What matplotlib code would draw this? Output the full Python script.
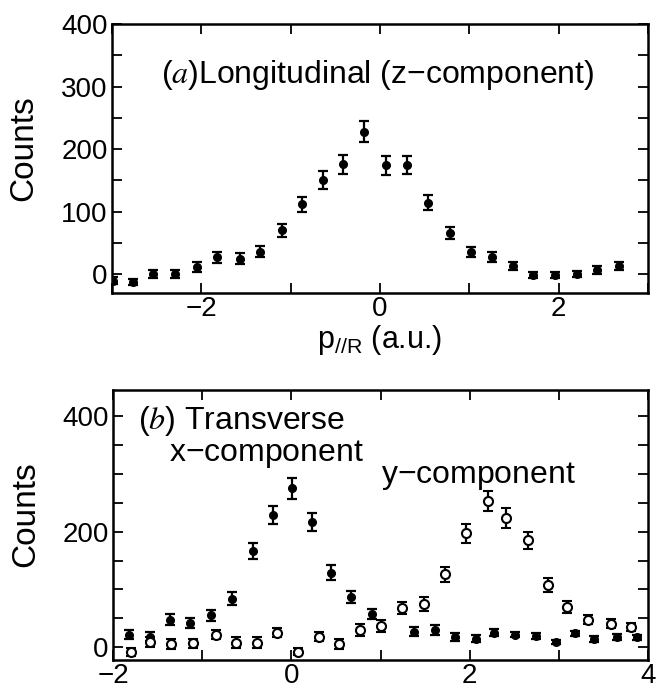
import numpy as np
import matplotlib
matplotlib.use("Agg")
import matplotlib.pyplot as plt
from matplotlib.ticker import MultipleLocator

plt.rcParams["font.family"] = ["Liberation Sans", "DejaVu Sans"]
plt.rcParams["mathtext.fontset"] = "stix"
plt.rcParams["mathtext.default"] = "regular"

## (a) longitudinal
pz = [-2.99, -2.77, -2.54, -2.29, -2.05, -1.82, -1.57, -1.34, -1.10, -0.87, -0.64, -0.41, -0.18,
      0.07, 0.30, 0.54, 0.78, 1.02, 1.25, 1.49, 1.71, 1.96, 2.20, 2.43, 2.67]
cz = [-10, -12, 0, 0, 11, 27, 25, 36, 70, 112, 151, 176, 228, 174, 175, 114, 66, 36, 28, 13,
      -1, -1, 0, 7, 13]
ez = [6, 5, 6, 6, 8, 9, 9, 9, 10, 12, 14, 15, 17, 15, 14, 12, 10, 8, 8, 7, 5, 5, 5, 6, 7]

## (b) transverse, x-component (filled)
px = [-1.82, -1.59, -1.36, -1.14, -0.90, -0.67, -0.43, -0.21, 0.01, 0.23, 0.45, 0.67, 0.91,
      1.38, 1.61, 1.83, 2.07, 2.27, 2.51, 2.74, 2.97, 3.18, 3.40, 3.65, 3.88]
cx = [22, 18, 48, 42, 55, 84, 167, 229, 275, 217, 129, 87, 58, 27, 30, 18, 15, 25, 22, 20,
      9, 24, 14, 18, 17]
ex = [8, 8, 9, 9, 10, 11, 14, 16, 18, 16, 13, 10, 9, 8, 8, 7, 6, 6, 5, 5, 4, 5, 5, 5, 5]

## (b) transverse, y-component (open)
py = [-1.80, -1.58, -1.35, -1.10, -0.85, -0.62, -0.38, -0.16, 0.08, 0.31, 0.53, 0.77, 1.00,
      1.24, 1.49, 1.72, 1.96, 2.20, 2.41, 2.65, 2.88, 3.09, 3.33, 3.58, 3.81]
cy = [-8, 9, 6, 7, 22, 8, 8, 25, -8, 18, 6, 30, 37, 68, 75, 126, 197, 253, 224, 185, 108,
      70, 48, 41, 35]
ey = [7, 9, 9, 8, 8, 9, 9, 8, 6, 8, 9, 10, 10, 11, 12, 13, 16, 18, 17, 15, 12, 10, 8, 8, 7]

FS = 20      # tick labels
TFS = 23     # annotations

fig = plt.figure(figsize=(6.56, 6.88), dpi=100)
ax1 = fig.add_axes([0.1707, 0.5741, 0.8171, 0.3910])
ax2 = fig.add_axes([0.1723, 0.0407, 0.8155, 0.3924])


def style(ax, ymajor):
    for s in ax.spines.values():
        s.set_linewidth(1.8)
    ax.xaxis.set_major_locator(MultipleLocator(2))
    ax.xaxis.set_minor_locator(MultipleLocator(1))
    ax.yaxis.set_major_locator(MultipleLocator(ymajor))
    ax.yaxis.set_minor_locator(MultipleLocator(50))
    ax.tick_params(which="both", direction="in", top=True, right=True,
                   length=7, width=1.3, labelsize=FS)
    ax.tick_params(axis="x", pad=2)
    ax.tick_params(axis="y", pad=3)


ax1.errorbar(pz, cz, yerr=ez, fmt="o", ms=5.5, color="black", ecolor="black",
             elinewidth=1.6, capsize=3.5, capthick=1.6)
ax1.set_xlim(-3, 3)
ax1.set_ylim(-30, 400)
style(ax1, 100)
ax1.set_xlabel("p$_{//R}$ (a.u.)", fontsize=22, labelpad=1)
ax1.set_ylabel("Counts", fontsize=24)
ax1.yaxis.set_label_coords(-0.135, 0.54)
ax1.text(-2.45, 319, r"($\mathit{a}$)Longitudinal (z$-$component)", fontsize=TFS,
         ha="left", va="center")

ax2.errorbar(px, cx, yerr=ex, fmt="o", ms=5.5, color="black", ecolor="black",
             elinewidth=1.6, capsize=3.5, capthick=1.6)
ax2.errorbar(py, cy, yerr=ey, fmt="o", ms=6.5, mfc="white", mec="black", mew=1.5,
             color="black", ecolor="black", elinewidth=1.6, capsize=3.5, capthick=1.6)
ax2.set_xlim(-2, 4)
ax2.set_ylim(-22, 445)
style(ax2, 200)
ax2.set_ylabel("Counts", fontsize=24)
ax2.yaxis.set_label_coords(-0.135, 0.54)
ax2.text(-1.72, 392, r"($\mathit{b}$) Transverse", fontsize=TFS, ha="left", va="center")
ax2.text(-1.37, 334, "x$-$component", fontsize=TFS, ha="left", va="center")
ax2.text(1.00, 296, "y$-$component", fontsize=TFS, ha="left", va="center")

fig.savefig("out.png", dpi=100)
